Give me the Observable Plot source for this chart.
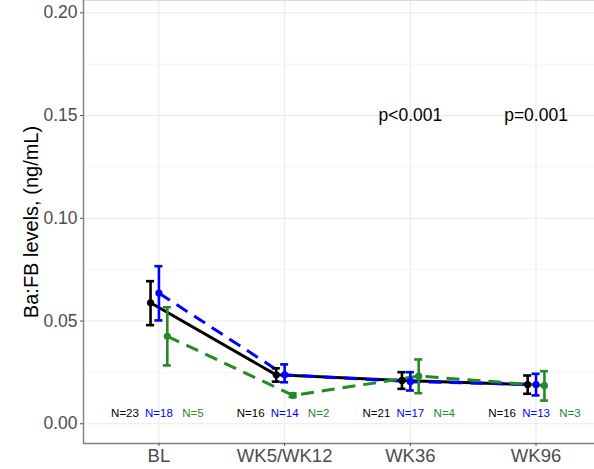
<!DOCTYPE html>
<html>
<head>
<meta charset="utf-8">
<script src="https://cdn.jsdelivr.net/npm/d3@7"></script>
<script src="https://cdn.jsdelivr.net/npm/@observablehq/plot@0.6"></script>
<style>
  html, body { margin: 0; padding: 0; background: #fff; }
  svg { display: block; font-family: "Liberation Sans", Arial, sans-serif; }
</style>
</head>
<body>
<div id="chart"></div>
<script>
// ---- data ----
const visits = ["BL", "WK5/WK12", "WK36", "WK96"];
const groupNames = ["Overall", "Group A", "Group B"];
const groupColors = ["#000000", "#0000FF", "#228B22"];

const meanOverall = [0.0589, 0.0238, 0.0211, 0.0191];
const lowOverall  = [0.0480, 0.0205, 0.0170, 0.0146];
const highOverall = [0.0694, 0.0270, 0.0251, 0.0235];

const meanA = [0.0636, 0.0238, 0.0205, 0.0191];
const lowA  = [0.0503, 0.0202, 0.0162, 0.0138];
const highA = [0.0767, 0.0289, 0.0251, 0.0243];

const meanB = [0.0426, 0.0138, 0.0232, 0.0186];
const lowB  = [0.0284, 0.0130, 0.0149, 0.0113];
const highB = [0.0567, 0.0148, 0.0313, 0.0256];

const nOverall = [23, 16, 21, 16];
const nA = [18, 14, 17, 13];
const nB = [5, 2, 4, 3];

const pLabels = ["", "", "p<0.001", "p=0.001"];
const pLabelY = 0.15;
const nLabelY = 0.005;

const yTicks = [0, 0.05, 0.10, 0.15, 0.20];
const yMinor = [0.025, 0.075, 0.125, 0.175];
const yTitle = "Ba:FB levels, (ng/mL)";

// ---- build table ----
const series = [
  {mean: meanOverall, low: lowOverall, high: highOverall, n: nOverall},
  {mean: meanA, low: lowA, high: highA, n: nA},
  {mean: meanB, low: lowB, high: highB, n: nB}
];
const dodge = [-0.0667, 0, 0.0667];
const nOffset = [-0.27, 0, 0.27];
const cap = 0.032;

const rows = [];
series.forEach((s, g) => {
  visits.forEach((v, i) => {
    rows.push({
      group: groupNames[g], gi: g, visit: v, vi: i + 1,
      x: i + 1 + dodge[g], mean: s.mean[i], low: s.low[i], high: s.high[i],
      n: "N=" + s.n[i], nx: i + 1 + nOffset[g]
    });
  });
});

const marks = [
  Plot.gridY(yMinor, {stroke: "#f2f2f2", strokeOpacity: 1, strokeWidth: 0.7}),
  Plot.gridY(yTicks, {stroke: "#e8e8e8", strokeOpacity: 1, strokeWidth: 1}),
  Plot.gridX([1, 2, 3, 4], {stroke: "#e8e8e8", strokeOpacity: 1, strokeWidth: 1}),
  Plot.frame({anchor: "top", stroke: "#dcdcdc"}),
  Plot.ruleX([0.4], {stroke: "#7f7f7f", strokeWidth: 1.4}),
  Plot.ruleY([-0.0096], {stroke: "#7f7f7f", strokeWidth: 1.4}),
  Plot.axisY({ticks: yTicks, tickFormat: d3.format(".2f"), tickSize: 3, tickPadding: 3,
    fontSize: 17.5, color: "#4d4d4d", label: null}),
  Plot.axisX({ticks: [1, 2, 3, 4], tickFormat: d => visits[d - 1], tickSize: 3, tickPadding: 2,
    fontSize: 18.5, color: "#4d4d4d", label: null}),
  Plot.text([yTitle], {frameAnchor: "left", textAnchor: "middle", rotate: -90, dx: -52,
    fontSize: 20, fill: "#000"})
];

series.forEach((s, g) => {
  const d = rows.filter(r => r.gi === g);
  marks.push(Plot.line(d, {x: "x", y: "mean", stroke: groupColors[g], strokeWidth: 3,
    strokeDasharray: g === 0 ? null : "13,8", strokeLinecap: "butt"}));
});
series.forEach((s, g) => {
  const d = rows.filter(r => r.gi === g);
  marks.push(Plot.ruleX(d, {x: "x", y1: "low", y2: "high", stroke: groupColors[g], strokeWidth: 2.6}));
  marks.push(Plot.ruleY(d, {y: "low", x1: r => r.x - cap, x2: r => r.x + cap, stroke: groupColors[g], strokeWidth: 2.6}));
  marks.push(Plot.ruleY(d, {y: "high", x1: r => r.x - cap, x2: r => r.x + cap, stroke: groupColors[g], strokeWidth: 2.6}));
  marks.push(Plot.dot(d, {x: "x", y: "mean", r: 3.6, fill: groupColors[g], stroke: "none"}));
  marks.push(Plot.text(d, {x: "nx", y: () => nLabelY, text: "n", fill: groupColors[g], fontSize: 11.5}));
});

marks.push(Plot.text(visits.map((v, i) => ({vi: i + 1, label: pLabels[i]})).filter(d => d.label),
  {x: "vi", y: () => pLabelY, text: "label", fontSize: 17.5, fill: "#000"}));

const chart = Plot.plot({
  width: 594,
  height: 469,
  marginLeft: 83,
  marginRight: 0,
  marginTop: 0,
  marginBottom: 26,
  style: {fontFamily: "'Liberation Sans', Arial, sans-serif", background: "#fff"},
  x: {type: "linear", domain: [0.4, 4.465], axis: null},
  y: {domain: [-0.0096, 0.206], axis: null},
  marks
});
document.getElementById("chart").appendChild(chart);
</script>
</body>
</html>
